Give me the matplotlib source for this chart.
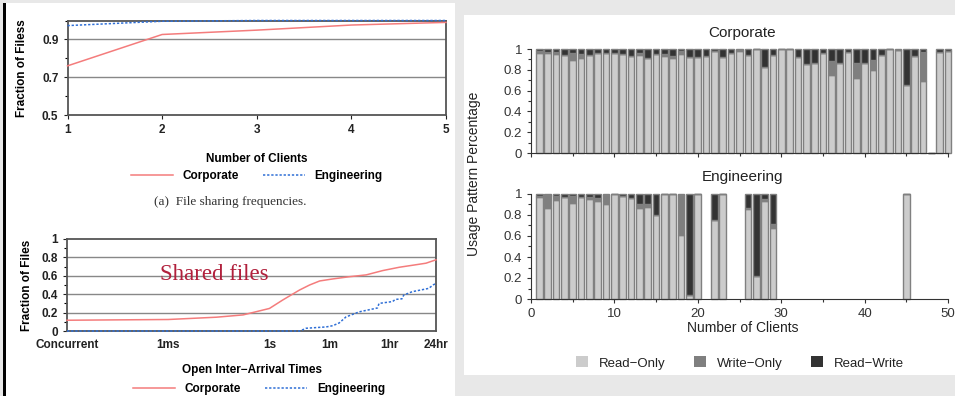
import numpy as np
import matplotlib
matplotlib.use("Agg")
import matplotlib.pyplot as plt
from matplotlib.patches import Rectangle, Patch

# (a) file sharing frequencies
clients = [1, 2, 3, 4, 5]
share_corp = [0.76, 0.926, 0.949, 0.976, 0.99]
share_eng = [0.973, 0.996, 1.0, 1.0, 1.0]

# open inter-arrival times (x in log10 seconds)
iat_ticks = [-6, -3, 0, 1.778, 3.556, 4.937]
iat_labels = ["Concurrent", "1ms", "1s", "1m", "1hr", "24hr"]
iat_corp_x = [-6, -3, -1.57, -0.78, 0, 0.39, 0.89, 1.19, 1.49, 1.88, 2.37, 2.87, 3.36, 3.85, 4.34, 4.64, 4.937]
iat_corp_y = [0.117, 0.125, 0.15, 0.175, 0.245, 0.336, 0.445, 0.5, 0.544, 0.566, 0.59, 0.61, 0.657, 0.693, 0.72, 0.737, 0.774]
iat_eng_x = [-6, 0.9, 1.09, 1.68, 1.88, 2.07, 2.27, 2.66, 3.2, 3.25, 3.65, 3.73, 3.93, 3.98, 4.23, 4.72, 4.85, 4.937]
iat_eng_y = [0.0, 0.0, 0.03, 0.044, 0.058, 0.088, 0.153, 0.208, 0.25, 0.3, 0.32, 0.343, 0.35, 0.39, 0.427, 0.463, 0.5, 0.518]

# usage pattern per number of clients
corp_n = list(range(1, 51))
corp_ro = [0.96, 0.96, 0.95, 0.94, 0.89, 0.91, 0.94, 0.96, 0.96, 0.96,
           0.95, 0.93, 0.94, 0.91, 0.95, 0.93, 0.91, 0.95, 0.92, 0.92,
           0.93, 0.98, 0.92, 0.96, 0.98, 0.94, 1.0, 0.83, 0.94, 1.0,
           1.0, 0.92, 0.86, 0.87, 0.96, 0.75, 0.87, 0.97, 0.72, 0.87,
           0.80, 0.94, 1.0, 0.99, 0.65, 0.93, 0.69, 0.0, 0.97, 0.98]
corp_wo = [0.02, 0.01, 0.02, 0.0, 0.07, 0.04, 0.0, 0.0, 0.0, 0.0,
           0.0, 0.0, 0.02, 0.0, 0.0, 0.02, 0.02, 0.03, 0.0, 0.0,
           0.0, 0.0, 0.0, 0.0, 0.01, 0.0, 0.0, 0.0, 0.0, 0.0,
           0.0, 0.0, 0.0, 0.0, 0.0, 0.13, 0.0, 0.0, 0.15, 0.0,
           0.09, 0.0, 0.0, 0.0, 0.0, 0.0, 0.28, 0.0, 0.0, 0.0]
corp_rw = [0.02, 0.03, 0.03, 0.06, 0.04, 0.05, 0.06, 0.04, 0.04, 0.04,
           0.05, 0.07, 0.04, 0.09, 0.05, 0.05, 0.07, 0.02, 0.08, 0.08,
           0.07, 0.02, 0.08, 0.04, 0.01, 0.06, 0.0, 0.17, 0.06, 0.0,
           0.0, 0.08, 0.14, 0.13, 0.04, 0.12, 0.13, 0.03, 0.13, 0.13,
           0.11, 0.06, 0.0, 0.01, 0.35, 0.07, 0.03, 0.0, 0.03, 0.02]

eng_n = [1, 2, 3, 4, 5, 6, 7, 8, 9, 10, 11, 12, 13, 14, 15, 16, 17, 18, 19, 20,
         22, 23, 26, 27, 28, 29, 45]
eng_ro = [0.97, 0.87, 0.94, 0.97, 0.91, 0.97, 0.95, 0.93, 0.90, 1.0,
          0.98, 0.96, 0.87, 0.88, 0.80, 1.0, 1.0, 0.61, 0.04, 1.0,
          0.75, 1.0, 0.86, 0.22, 0.93, 0.68, 1.0]
eng_wo = [0.01, 0.12, 0.04, 0.0, 0.07, 0.0, 0.02, 0.03, 0.09, 0.0,
          0.0, 0.0, 0.03, 0.02, 0.0, 0.0, 0.0, 0.38, 0.0, 0.0,
          0.0, 0.0, 0.01, 0.0, 0.02, 0.03, 0.0]
eng_rw = [0.02, 0.01, 0.02, 0.03, 0.02, 0.03, 0.03, 0.04, 0.01, 0.0,
          0.02, 0.04, 0.10, 0.10, 0.20, 0.0, 0.0, 0.01, 0.96, 0.0,
          0.25, 0.0, 0.13, 0.78, 0.05, 0.29, 0.0]

W, H = 955, 396
fig = plt.figure(figsize=(9.55, 3.96), dpi=100, facecolor="#e8e8e8")

def fx(px):
    return px / W

def fy(py):
    return 1 - py / H

# panel backgrounds
fig.patches.append(Rectangle((fx(6), 0), fx(455) - fx(6), fy(3), transform=fig.transFigure,
                             facecolor="white", edgecolor="none", zorder=-5))
fig.patches.append(Rectangle((fx(3), 0), fx(2.5), fy(3), transform=fig.transFigure,
                             facecolor="black", edgecolor="none", zorder=-4))
fig.patches.append(Rectangle((fx(464), fy(375)), 1 - fx(464), fy(15) - fy(375), transform=fig.transFigure,
                             facecolor="white", edgecolor="none", zorder=-5))

bold = dict(fontweight="bold", family="Liberation Sans")
corp_col = "#f47c7c"
eng_col = "#2f6fd6"
frame_col = "#555555"
grid_col = "#888888"

def left_style(ax):
    for s in ax.spines.values():
        s.set_color(frame_col)
        s.set_linewidth(1.3)
    ax.tick_params(axis="both", colors="#222222", labelsize=8.5, length=3, width=0.8)
    ax.tick_params(axis="y", which="minor", length=2, width=0.8)
    for lab in ax.get_xticklabels() + ax.get_yticklabels():
        lab.set_fontweight("bold")
        lab.set_family("Liberation Sans")

# ---- (a) top-left
ax1 = fig.add_axes([fx(67.5), fy(115), fx(446) - fx(67.5), fy(20.5) - fy(115)])
ax1.plot(clients, share_corp, color=corp_col, lw=1.1, label="Corporate", clip_on=False, zorder=3)
ax1.plot(clients, share_eng, color=eng_col, lw=1.1, ls=(0, (1.5, 1.2)), label="Engineering",
         clip_on=False, zorder=4)
ax1.set_xlim(1, 5)
ax1.set_ylim(0.5, 1.0)
ax1.set_xticks([1, 2, 3, 4, 5])
ax1.set_yticks([0.5, 0.7, 0.9])
ax1.set_yticks([0.6, 0.8, 1.0], minor=True)
for g in [0.7, 0.9]:
    ax1.axhline(g, color=grid_col, lw=1.0, zorder=0)
left_style(ax1)
ax1.set_ylabel("Fraction of Filess", fontsize=8.5, labelpad=10, **bold)
ax1.set_xlabel("Number of Clients", fontsize=8.5, labelpad=12, **bold)
ax1.legend(loc="upper center", bbox_to_anchor=(0.5, -0.53), ncol=2, frameon=False,
           prop=dict(weight="bold", size=8.5, family="Liberation Sans"),
           handlelength=3.6, columnspacing=2.0, borderaxespad=0)
fig.text(fx(230), fy(202), "(a)  File sharing frequencies.", ha="center", va="center",
         fontsize=9.5, family="Liberation Serif", color="#333333")

# ---- bottom-left
ax2 = fig.add_axes([fx(67), fy(331), fx(436) - fx(67), fy(239) - fy(331)])
ax2.plot(iat_corp_x, iat_corp_y, color=corp_col, lw=1.1, label="Corporate", clip_on=False, zorder=3)
ax2.plot(iat_eng_x, iat_eng_y, color=eng_col, lw=1.1, ls=(0, (1.5, 1.2)), label="Engineering",
         clip_on=False, zorder=4)
ax2.set_xlim(iat_ticks[0], iat_ticks[-1])
ax2.set_ylim(0, 1)
ax2.set_xticks(iat_ticks)
ax2.set_xticklabels(iat_labels)
ax2.set_yticks([0, 0.2, 0.4, 0.6, 0.8, 1])
ax2.set_yticklabels(["0", "0.2", "0.4", "0.6", "0.8", "1"])
ax2.set_yticks(np.arange(0.1, 1.0, 0.2), minor=True)
for g in [0.2, 0.4, 0.6, 0.8]:
    ax2.axhline(g, color=grid_col, lw=1.0, zorder=0)
left_style(ax2)
ax2.tick_params(axis="x", length=0, pad=6)
ax2.set_ylabel("Fraction of Files", fontsize=8.5, labelpad=6, **bold)
ax2.set_xlabel("Open Inter\u2212Arrival Times", fontsize=8.5, labelpad=9, **bold)
ax2.legend(loc="upper center", bbox_to_anchor=(0.52, -0.51), ncol=2, frameon=False,
           prop=dict(weight="bold", size=8.5, family="Liberation Sans"),
           handlelength=3.6, columnspacing=2.0, borderaxespad=0)
ax2.text(-3.25, 0.61, "Shared files", fontsize=16.5, family="Liberation Serif",
         color="#b1203c", va="center", ha="left")

# ---- right panel
ro_col, wo_col, rw_col = "#cccccc", "#7f7f7f", "#333333"
edge = "#808080"

def usage_axes(top_px, bottom_px):
    ax = fig.add_axes([fx(531), fy(bottom_px), fx(8.34 * 50.7), fy(top_px) - fy(bottom_px)])
    ax.set_xlim(0, 50.7)
    ax.set_ylim(0, 1.0)
    for s in ["top", "right"]:
        ax.spines[s].set_visible(False)
    ax.spines["left"].set_bounds(0, 1)
    ax.spines["bottom"].set_bounds(0, 50)
    for s in ["left", "bottom"]:
        ax.spines[s].set_color("#333333")
        ax.spines[s].set_linewidth(0.8)
    ax.set_yticks([0, 0.2, 0.4, 0.6, 0.8, 1])
    ax.set_yticklabels(["0", "0.2", "0.4", "0.6", "0.8", "1"])
    ax.set_yticks(np.arange(0.1, 1.0, 0.2), minor=True)
    ax.set_xticks(range(0, 51, 10))
    ax.set_xticks(range(5, 50, 10), minor=True)
    ax.tick_params(axis="both", which="both", labelsize=9.5, length=3, width=0.8, colors="#333333")
    ax.tick_params(axis="both", which="minor", length=2)
    for lab in ax.get_yticklabels() + ax.get_xticklabels():
        lab.set_family("Liberation Sans")
    return ax

def stack(ax, n, ro, wo, rw):
    ro = np.array(ro); wo = np.array(wo); rw = np.array(rw)
    kw = dict(width=0.8, edgecolor=edge, linewidth=1.0, clip_on=False)
    ax.bar(n, ro, color=ro_col, **kw)
    ax.bar(n, wo, bottom=ro, color=wo_col, **kw)
    ax.bar(n, rw, bottom=ro + wo, color=rw_col, **kw)

ax3 = usage_axes(49, 153)
stack(ax3, corp_n, corp_ro, corp_wo, corp_rw)
ax3.tick_params(axis="x", labelbottom=False)
ax3.set_title("Corporate", fontsize=11, family="Liberation Sans", pad=9, color="#222222")

ax4 = usage_axes(194, 299)
stack(ax4, eng_n, eng_ro, eng_wo, eng_rw)
ax4.set_title("Engineering", fontsize=11, family="Liberation Sans", pad=9, color="#222222")
ax4.set_xlabel("Number of Clients", fontsize=10, family="Liberation Sans", labelpad=1, color="#222222")

fig.text(fx(474), fy(174), "Usage Pattern Percentage", rotation=90, ha="center", va="center",
         fontsize=10, family="Liberation Sans", color="#222222")

handles = [Patch(facecolor=ro_col, edgecolor="none"),
           Patch(facecolor=wo_col, edgecolor="none"),
           Patch(facecolor=rw_col, edgecolor="none")]
fig.legend(handles, ["Read\u2212Only", "Write\u2212Only", "Read\u2212Write"],
           loc="center", bbox_to_anchor=(fx(740), fy(363)), ncol=3, frameon=False,
           prop=dict(size=9.5, family="Liberation Sans"), handlelength=0.9, handleheight=0.9,
           columnspacing=2.2, handletextpad=0.8, labelcolor="#222222")

fig.savefig("out.png", dpi=100, facecolor=fig.get_facecolor())
